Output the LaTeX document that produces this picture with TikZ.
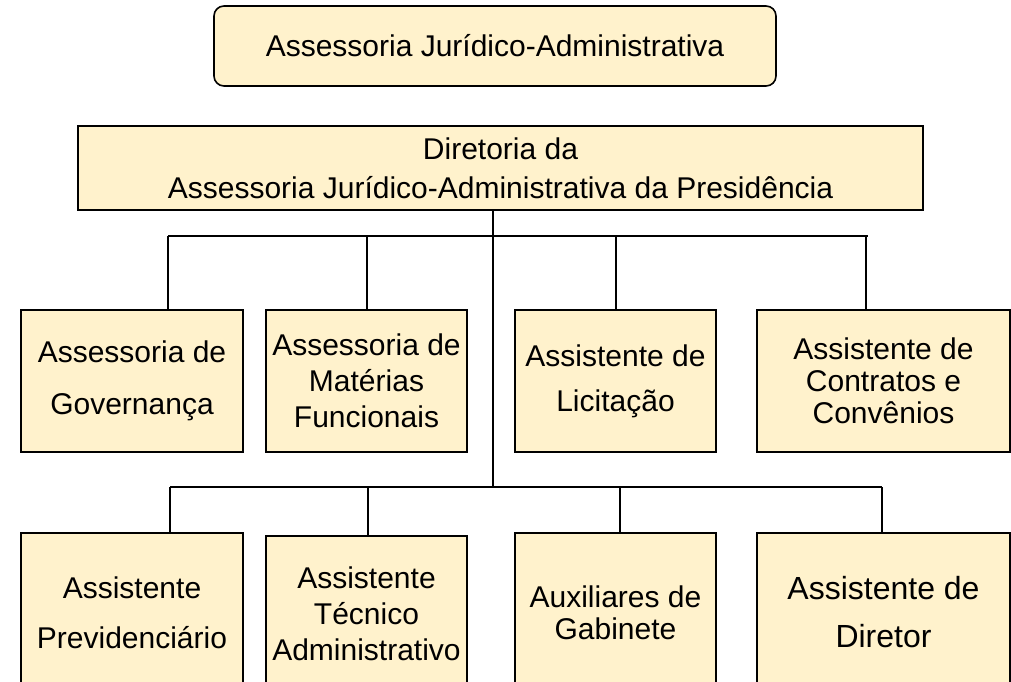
\documentclass[tikz,border=0pt]{standalone}
\usepackage{fontspec}
\setmainfont{Liberation Sans}
\definecolor{boxfill}{HTML}{FFF2CC}
\begin{document}
\begin{tikzpicture}[x=1pt,y=-1pt,
  box/.style={draw=black, line width=1.6pt, fill=boxfill, inner sep=0pt, align=center, font=\fontsize{30}{36}\selectfont},
  conn/.style={draw=black, line width=1.5pt}]
\useasboundingbox (0,0) rectangle (1011,682);
\clip (0,0) rectangle (1011,682);
% top
\node[box, rounded corners=10pt, minimum width=562pt, minimum height=80pt] (top) at (495,46) {Assessoria Jurídico-Administrativa};
\node[box, minimum width=845pt, minimum height=84pt, font=\fontsize{30}{39}\selectfont] (dir) at (500.5,168) {Diretoria da\\Assessoria Jurídico-Administrativa da Presidência};
% row 1
\node[box, minimum width=222pt, minimum height=142pt, font=\fontsize{30}{52}\selectfont] (a1) at (132,381) {Assessoria de\\Governança};
\node[box, minimum width=201pt, minimum height=142pt, font=\fontsize{30}{36}\selectfont] (a2) at (366.5,381) {Assessoria de\\Matérias\\Funcionais};
\node[box, minimum width=201pt, minimum height=142pt, font=\fontsize{30}{45}\selectfont] (a3) at (615.5,381) {Assistente de\\Licitação};
\node[box, minimum width=253pt, minimum height=142pt, font=\fontsize{30}{32}\selectfont] (a4) at (883.5,381) {Assistente de\\Contratos e\\Convênios};
% row 2
\node[box, minimum width=222pt, minimum height=159pt, font=\fontsize{30}{50}\selectfont] (b1) at (132,612.5) {Assistente\\Previdenciário};
\node[box, minimum width=201pt, minimum height=156pt, font=\fontsize{30}{36}\selectfont] (b2) at (366.5,614) {Assistente\\Técnico\\Administrativo};
\node[box, minimum width=201pt, minimum height=159pt, font=\fontsize{30}{32}\selectfont] (b3) at (615.5,612.5) {Auxiliares de\\Gabinete};
\node[box, minimum width=253pt, minimum height=159pt, font=\fontsize{32}{48}\selectfont] (b4) at (883.5,612.5) {Assistente de\\Diretor};
% connectors
\coordinate (bus1L) at (168,236);
\coordinate (bus1R) at (868,236);
\coordinate (t1) at (168,236);
\coordinate (t2) at (367,236);
\coordinate (t3) at (616,236);
\coordinate (t4) at (866,236);
\coordinate (bus2L) at (170,487);
\coordinate (bus2R) at (882,487);
\coordinate (s1) at (170,487);
\coordinate (s2) at (368,487);
\coordinate (s3) at (620,487);
\coordinate (s4) at (882,487);
\coordinate (trunk) at (493,487);
\draw[conn] (dir.south -| trunk) -- (trunk);
\draw[conn] (bus1L) -- (bus1R);
\draw[conn] (bus2L) -- (bus2R);
\draw[conn] (t1) -- (t1 |- a1.north);
\draw[conn] (t2) -- (t2 |- a2.north);
\draw[conn] (t3) -- (t3 |- a3.north);
\draw[conn] (t4) -- (t4 |- a4.north);
\draw[conn] (s1) -- (s1 |- b1.north);
\draw[conn] (s2) -- (s2 |- b2.north);
\draw[conn] (s3) -- (s3 |- b3.north);
\draw[conn] (s4) -- (s4 |- b4.north);
\end{tikzpicture}
\end{document}
